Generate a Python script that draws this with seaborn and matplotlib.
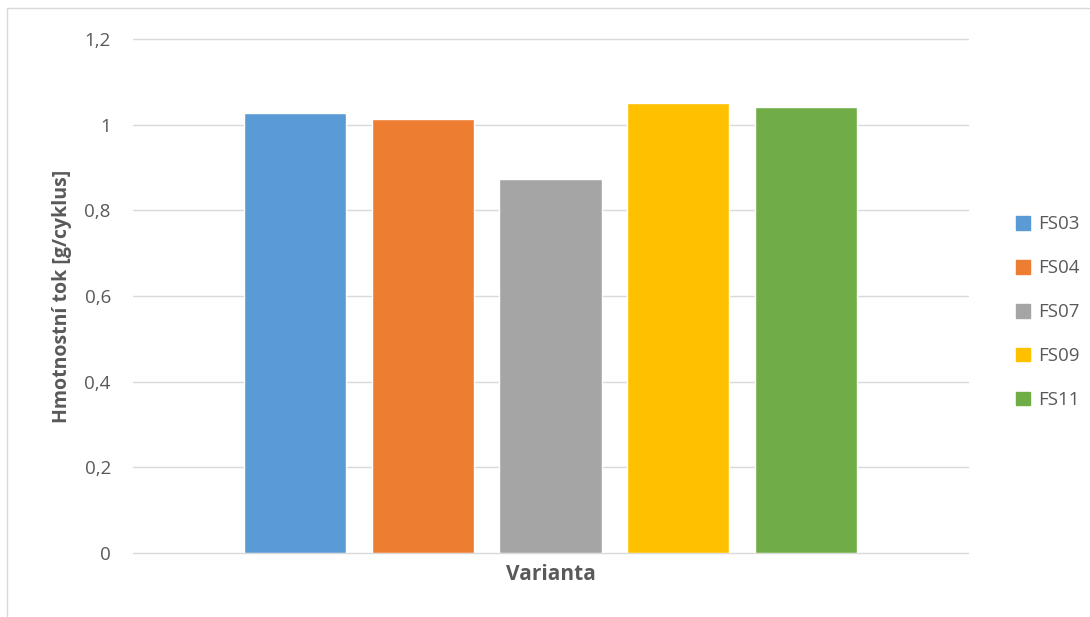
import matplotlib
matplotlib.use("Agg")
import matplotlib.pyplot as plt
import matplotlib.patches as mpatches
import seaborn as sns
import pandas as pd

# Mass flow per cycle for each variant
variants = ["FS03", "FS04", "FS07", "FS09", "FS11"]
mass_flow = [1.027, 1.013, 0.873, 1.051, 1.041]
colors = ["#5b9bd5", "#ed7d31", "#a5a5a5", "#ffc000", "#70ad47"]
y_ticks = [0, 0.2, 0.4, 0.6, 0.8, 1.0, 1.2]
y_tick_labels = ["0", "0,2", "0,4", "0,6", "0,8", "1", "1,2"]

df = pd.DataFrame({"group": [""] * len(variants), "variant": variants, "flow": mass_flow})

sns.set_theme(style="white")
plt.rcParams["font.family"] = ["Open Sans", "DejaVu Sans"]

fig = plt.figure(figsize=(10.9, 6.17), dpi=100)
ax = fig.add_axes([0.122, 0.1037, 0.766, 0.8331])

sns.barplot(data=df, x="group", y="flow", hue="variant", hue_order=variants,
            palette=colors, width=0.765, gap=0.2, dodge=True, ax=ax,
            legend=False, saturation=1, errorbar=None, zorder=3)

ax.set_ylim(0, 1.2)
ax.set_xlim(-0.5, 0.5)
ax.set_yticks(y_ticks)
ax.set_yticklabels(y_tick_labels, color="#595959", fontsize=13.5)
ax.set_xticks([])
ax.yaxis.grid(True, color="#d9d9d9", linewidth=1, zorder=0)
for gl in ax.get_ygridlines():
    gl.set_clip_on(False)
ax.tick_params(axis="y", length=0, pad=16)
for s in ax.spines.values():
    s.set_visible(False)

ax.set_ylabel("Hmotnostní tok [g/cyklus]", fontsize=14, fontweight="bold",
              color="#595959", labelpad=9)
ax.set_xlabel("Varianta", fontsize=15, fontweight="bold", color="#595959", labelpad=8)

handles = [mpatches.Patch(color=c, label=v) for v, c in zip(variants, colors)]
fig.legend(handles=handles, loc="center left", bbox_to_anchor=(0.917, 0.494),
           frameon=False, fontsize=13.5, labelcolor="#595959",
           handlelength=0.75, handleheight=0.75, handletextpad=0.4, labelspacing=1.38)

# outer chart frame
fig.patches.append(mpatches.Rectangle((7 / 1090, -0.01), 1.0, 1 - 8 / 617 + 0.01,
                                      transform=fig.transFigure, fill=False,
                                      edgecolor="#d9d9d9", linewidth=1))

fig.savefig("out.png", dpi=100)
